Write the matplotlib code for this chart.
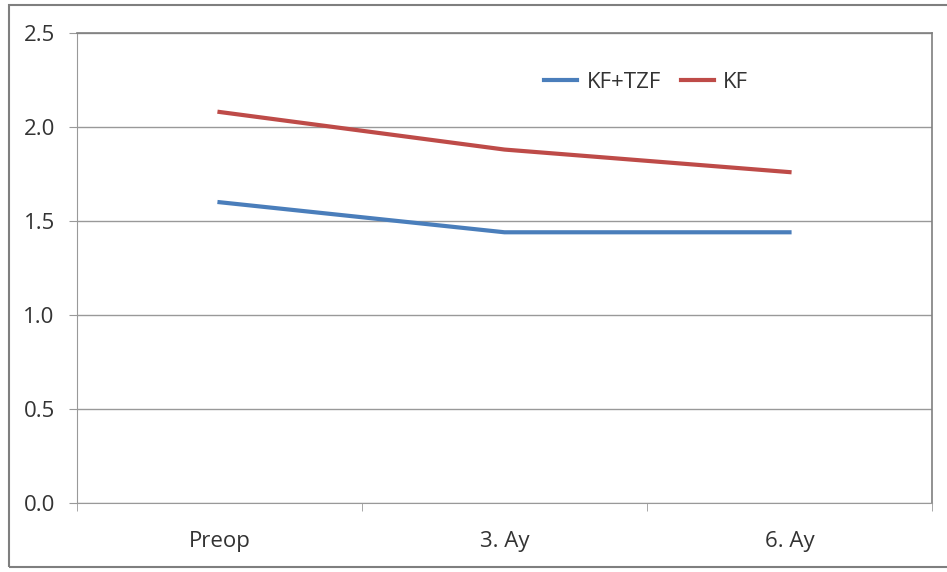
import matplotlib.pyplot as plt
from matplotlib.patches import Rectangle

categories = ["Preop", "3. Ay", "6. Ay"]
kf_tzf = [1.60, 1.44, 1.44]
kf = [2.08, 1.88, 1.76]
y_ticks = [0.0, 0.5, 1.0, 1.5, 2.0, 2.5]

plt.rcParams["font.family"] = ["Open Sans", "DejaVu Sans"]

fig = plt.figure(figsize=(9.47, 5.72), dpi=100)
ax = fig.add_axes([77 / 947, 69 / 572, 855 / 947, 470 / 572])

# cerceve
fig.patches.append(Rectangle((9 / 947, 5 / 572), 950 / 947, 562 / 572,
                             transform=fig.transFigure, fill=False,
                             edgecolor="#7f7f7f", linewidth=1.5))

x = range(len(categories))
ax.plot(x, kf_tzf, color="#4A7EBB", linewidth=3, label="KF+TZF")
ax.plot(x, kf, color="#BE4B48", linewidth=3, label="KF")

ax.set_xlim(-0.5, len(categories) - 0.5)
ax.set_ylim(0, 2.5)
ax.set_yticks(y_ticks)
ax.set_yticklabels([f"{v:.1f}" for v in y_ticks])
ax.set_xticks(list(x))
ax.set_xticklabels(categories)
ax.set_xticks([i - 0.5 for i in range(len(categories) + 1)], minor=True)

ax.yaxis.grid(True, color="#999999", linewidth=1)
ax.set_axisbelow(True)
ax.tick_params(axis="x", which="major", length=0, pad=20, labelsize=16, colors="#333333")
ax.tick_params(axis="x", which="minor", length=6, color="#999999", direction="out")
ax.tick_params(axis="y", length=6, pad=10, labelsize=16, colors="#333333")
ax.tick_params(axis="y", color="#999999")

for side in ["left", "bottom"]:
    ax.spines[side].set_color("#999999")
for side in ["top", "right"]:
    ax.spines[side].set_color("#7f7f7f")
    ax.spines[side].set_linewidth(1.2)

ax.legend(loc="upper left", bbox_to_anchor=(0.523, 0.96), ncol=2, frameon=False,
          fontsize=16, handlelength=1.5, columnspacing=0.9, handletextpad=0.4,
          labelcolor="#333333")

fig.savefig("out.png", dpi=100)
